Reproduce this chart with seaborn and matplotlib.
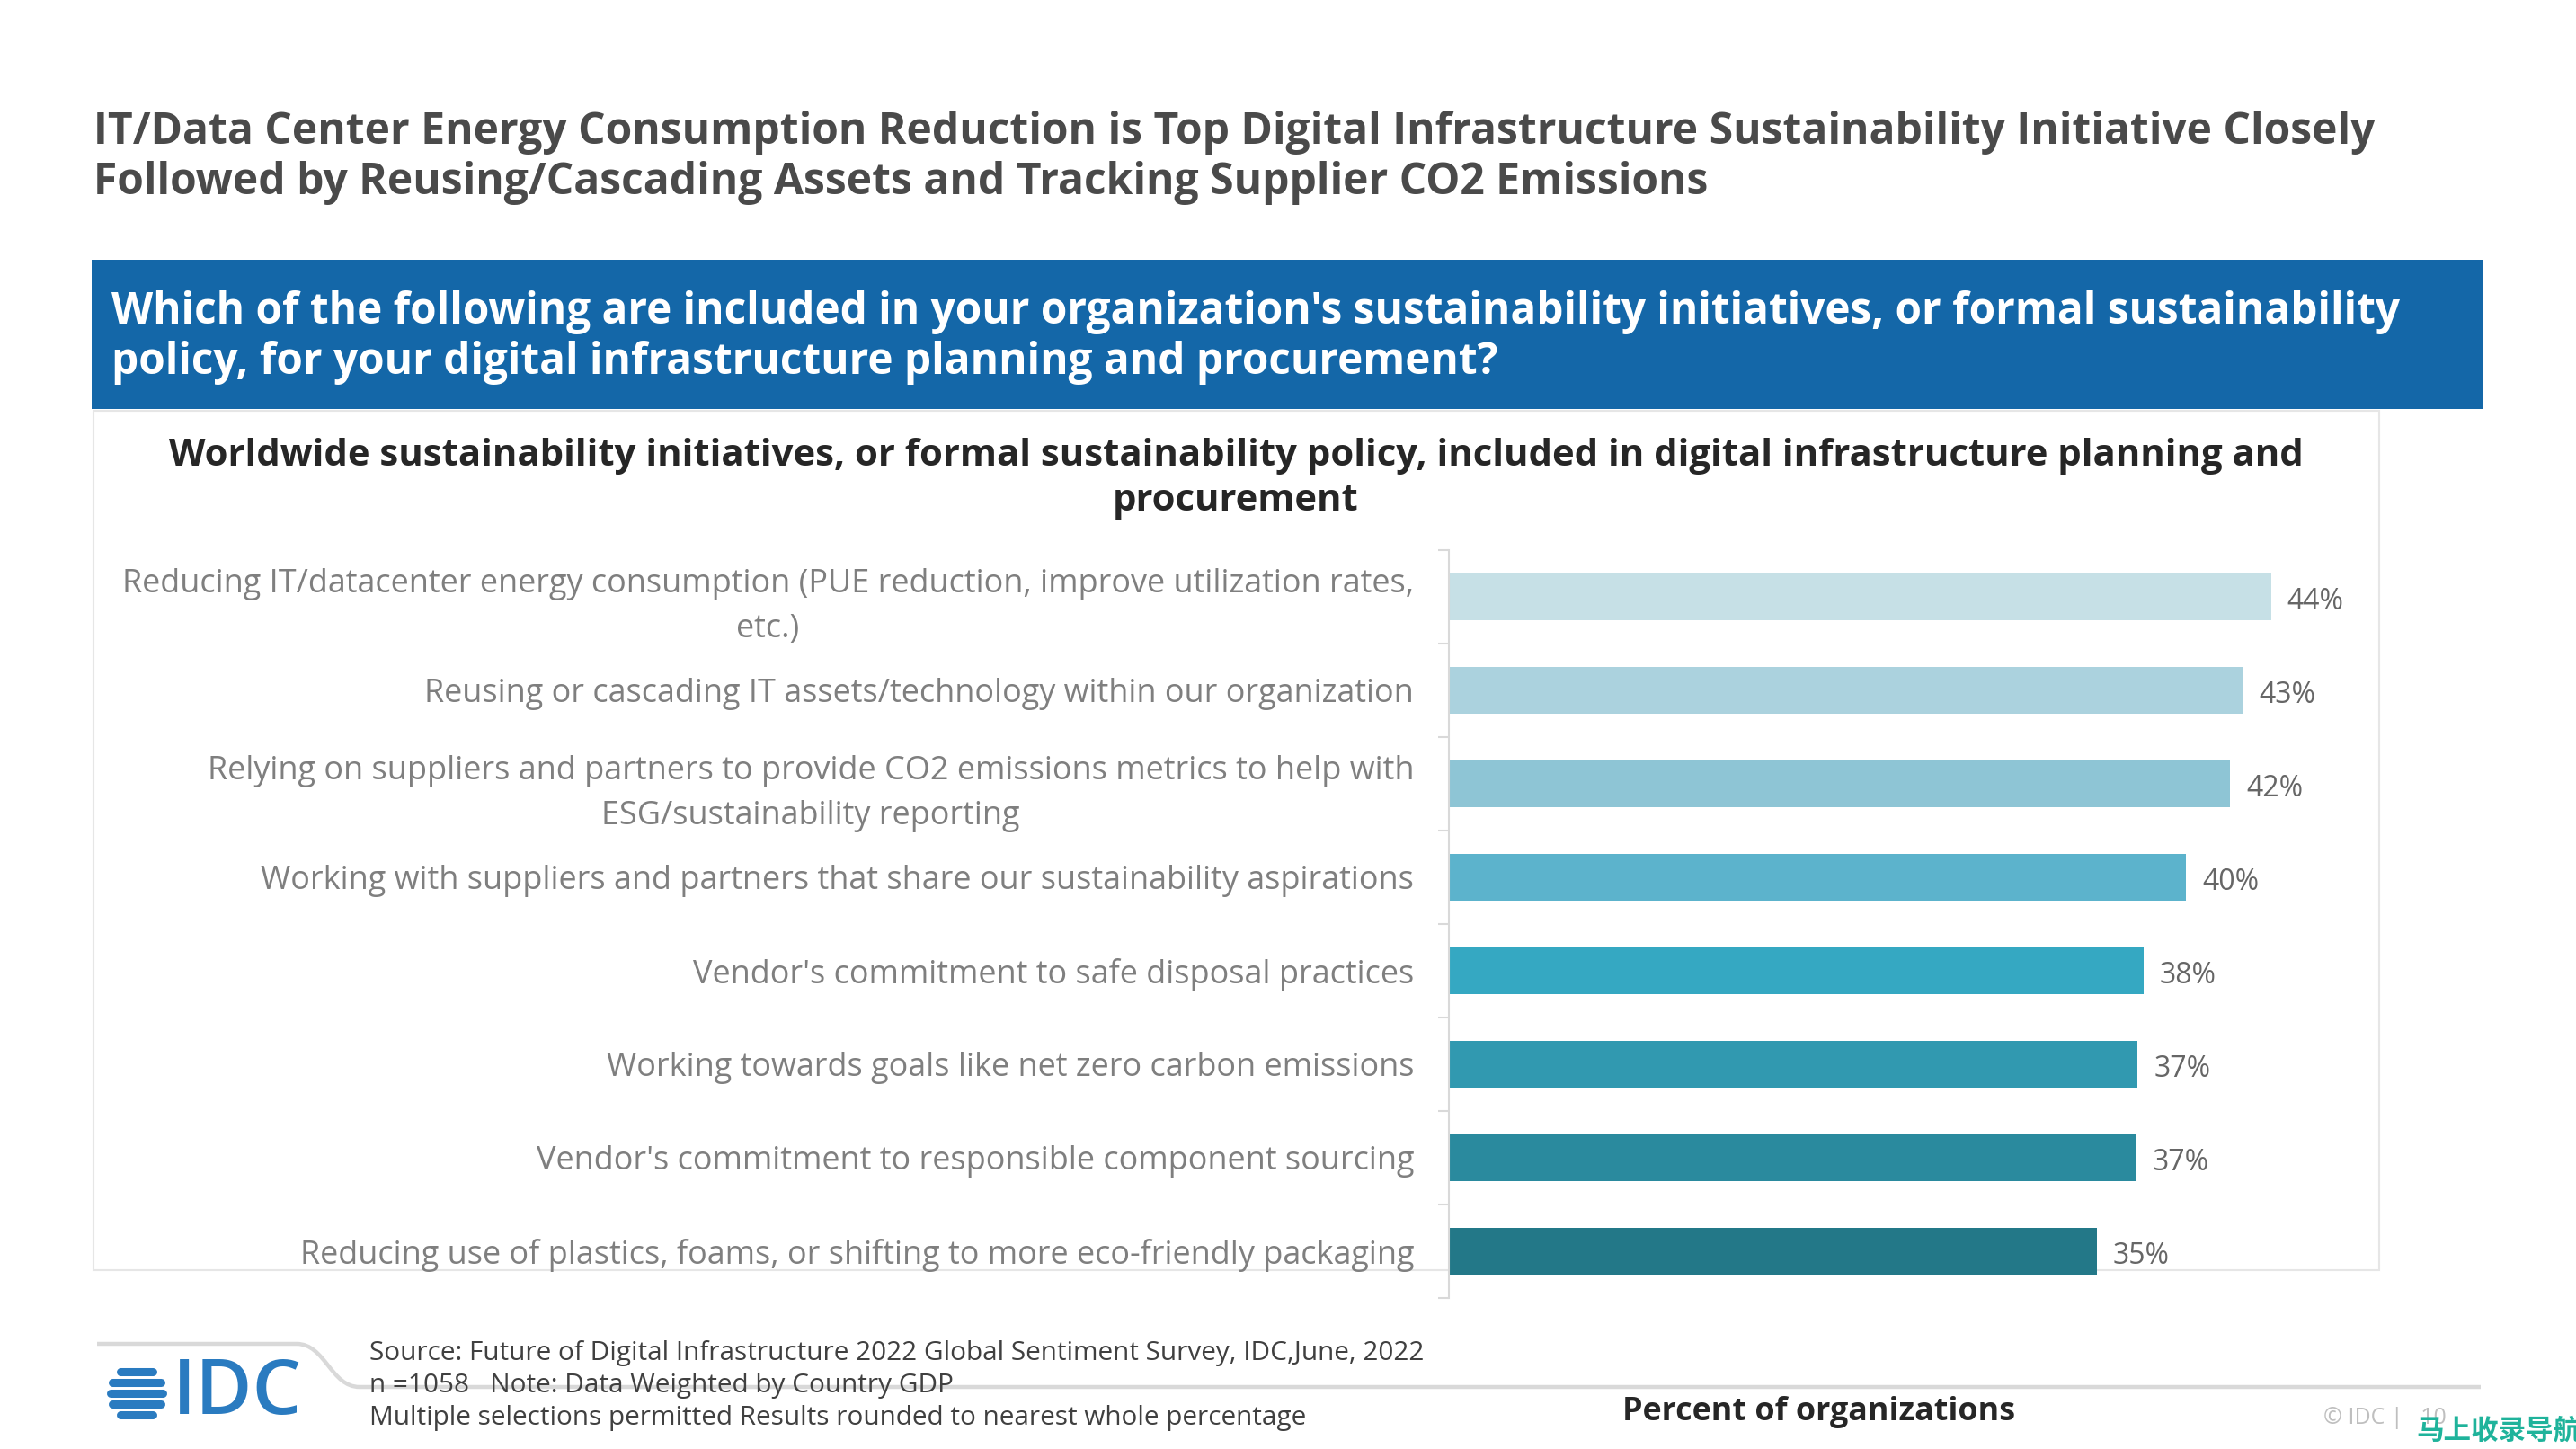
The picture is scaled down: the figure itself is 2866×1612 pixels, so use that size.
import numpy as np
import pandas as pd
import matplotlib
matplotlib.use("Agg")
import matplotlib.pyplot as plt
from matplotlib.patches import Rectangle, PathPatch
from matplotlib.path import Path
from matplotlib.lines import Line2D
import seaborn as sns

# ---------------- data ----------------
categories = [
    "Reducing IT/datacenter energy consumption (PUE reduction, improve utilization rates,\netc.)",
    "Reusing or cascading IT assets/technology within our organization",
    "Relying on suppliers and partners to provide CO2 emissions metrics to help with\nESG/sustainability reporting",
    "Working with suppliers and partners that share our sustainability aspirations",
    "Vendor's commitment to safe disposal practices",
    "Working towards goals like net zero carbon emissions",
    "Vendor's commitment to responsible component sourcing",
    "Reducing use of plastics, foams, or shifting to more eco-friendly packaging",
]
values = [44.4, 42.9, 42.2, 39.8, 37.5, 37.2, 37.1, 35.0]
value_labels = ["44%", "43%", "42%", "40%", "38%", "37%", "37%", "35%"]
bar_colors = ["#C6E0E6", "#ABD2DE", "#8EC5D5", "#5CB3CC",
              "#35A8C2", "#3199B0", "#2A8A9E", "#237888"]

title_lines = [
    "IT/Data Center Energy Consumption Reduction is Top Digital Infrastructure Sustainability Initiative Closely",
    "Followed by Reusing/Cascading Assets and Tracking Supplier CO2 Emissions",
]
question_lines = [
    "Which of the following are included in your organization's sustainability initiatives, or formal sustainability",
    "policy, for your digital infrastructure planning and procurement?",
]
subtitle_lines = [
    "Worldwide sustainability initiatives, or formal sustainability policy, included in digital infrastructure planning and",
    "procurement",
]
footer_lines = [
    "Source: Future of Digital Infrastructure 2022 Global Sentiment Survey, IDC,June, 2022",
    "n =1058   Note: Data Weighted by Country GDP",
    "Multiple selections permitted Results rounded to nearest whole percentage",
]
x_label = "Percent of organizations"

# ---------------- figure ----------------
plt.rcParams['font.family'] = ['Open Sans', 'DejaVu Sans']
W, H = 2866, 1612
fig = plt.figure(figsize=(W / 100, H / 100), dpi=100)
fig.patch.set_facecolor("white")


def fx(x):
    return x / W


def fy(y):
    return 1 - y / H


# title
for txt, y in zip(title_lines, [147, 203]):
    fig.text(fx(104), fy(y), txt, fontsize=34.6, fontweight='bold',
             color='#4a4a4a', va='center', ha='left')

# blue banner
fig.add_artist(Rectangle((fx(102), fy(455)), fx(2762) - fx(102), fy(289) - fy(455),
                         transform=fig.transFigure, facecolor='#1467A8',
                         edgecolor='none', zorder=0))
for txt, y in zip(question_lines, [347, 403]):
    fig.text(fx(124), fy(y), txt, fontsize=34.4, fontweight='bold',
             color='white', va='center', ha='left')

# chart panel
fig.add_artist(Rectangle((fx(104), fy(1413)), fx(2647) - fx(104), fy(457) - fy(1413),
                         transform=fig.transFigure, facecolor='white',
                         edgecolor='#e6e6e6', lw=1.5, zorder=0))
for txt, y in zip(subtitle_lines, [508, 558]):
    fig.text(fx(1375), fy(y), txt, fontsize=30.2, fontweight='bold',
             color='#262626', va='center', ha='center')

# axes
ax_left, ax_top, ax_w, ax_h = 1612, 612, 1030, 832
ax = fig.add_axes([fx(ax_left), fy(ax_top + ax_h), ax_w / W, ax_h / H])
ax.patch.set_alpha(0)

df = pd.DataFrame({"category": categories, "value": values})
sns.barplot(data=df, x="value", y="category", hue="category",
            palette=bar_colors, legend=False, width=0.5, orient='h',
            saturation=1, ax=ax)

ax.set_xlim(0, 50)
ax.set_ylim(7.5, -0.5)
for sp in ["top", "right", "bottom"]:
    ax.spines[sp].set_visible(False)
ax.spines["left"].set_color("#d9d9d9")
ax.spines["left"].set_linewidth(1.5)
ax.set_xticks([])
ax.set_ylabel("")
ax.set_yticks(range(len(categories)))
ax.set_yticklabels(categories, fontsize=25.9, color='#7f7f7f')
for t in ax.get_yticklabels():
    t.set_multialignment('center')
    t.set_linespacing(1.5)
ax.set_yticks(np.arange(-0.5, len(categories), 1), minor=True)
ax.tick_params(axis='y', which='major', length=0, pad=28)
ax.tick_params(axis='y', which='minor', length=9, color='#d9d9d9', width=1.5)

for i, (v, lab) in enumerate(zip(values, value_labels)):
    ax.annotate(lab, xy=(v, i), xytext=(13, -4), textcoords='offset points',
                va='center', ha='left', fontsize=23, color='#666666')

ax.set_xlabel(x_label, fontsize=25.8, fontweight='bold', color='#262626')
ax.xaxis.set_label_coords((2024 - ax_left) / ax_w, -(1571 - (ax_top + ax_h)) / ax_h)
ax.xaxis.label.set_va('center')

# footer line with curve
verts = [(108, 1495), (330, 1495), (362, 1495), (368, 1543), (400, 1543), (2760, 1543)]
codes = [Path.MOVETO, Path.LINETO, Path.CURVE4, Path.CURVE4, Path.CURVE4, Path.LINETO]
path = Path([(fx(x), fy(y)) for x, y in verts], codes)
fig.add_artist(PathPatch(path, transform=fig.transFigure, facecolor='none',
                         edgecolor='#d9d9d9', lw=3.2, zorder=0))

for txt, y in zip(footer_lines, [1505, 1542, 1577]):
    fig.text(fx(411), fy(y), txt, fontsize=21.4, color='#404040',
             va='center', ha='left')

# IDC logo
cx, cy, r = 152, 1550, 31
for dy in [-24, -12, 0, 12, 24]:
    half = np.sqrt(max(r * r - dy * dy, 0)) - 2
    fig.add_artist(Line2D([fx(cx - half), fx(cx + half)], [fy(cy + dy), fy(cy + dy)],
                          transform=fig.transFigure, color='#2A7BC0', lw=6.5,
                          solid_capstyle='round'))
fig.text(fx(192), fy(1551), "IDC", fontsize=62, color='#2A7BC0',
         va='center', ha='left', fontweight='semibold')

# page footer
fig.text(fx(2585), fy(1578), "© IDC |   10", fontsize=18, color='#bfbfbf',
         va='center', ha='left')
fig.text(fx(2688), fy(1592), "马上收录导航", fontsize=22, color='#1FB39B',
         va='center', ha='left', fontweight='bold', style='italic',
         family=['Noto Sans CJK SC', 'DejaVu Sans'])

fig.savefig("out.png", dpi=100)
